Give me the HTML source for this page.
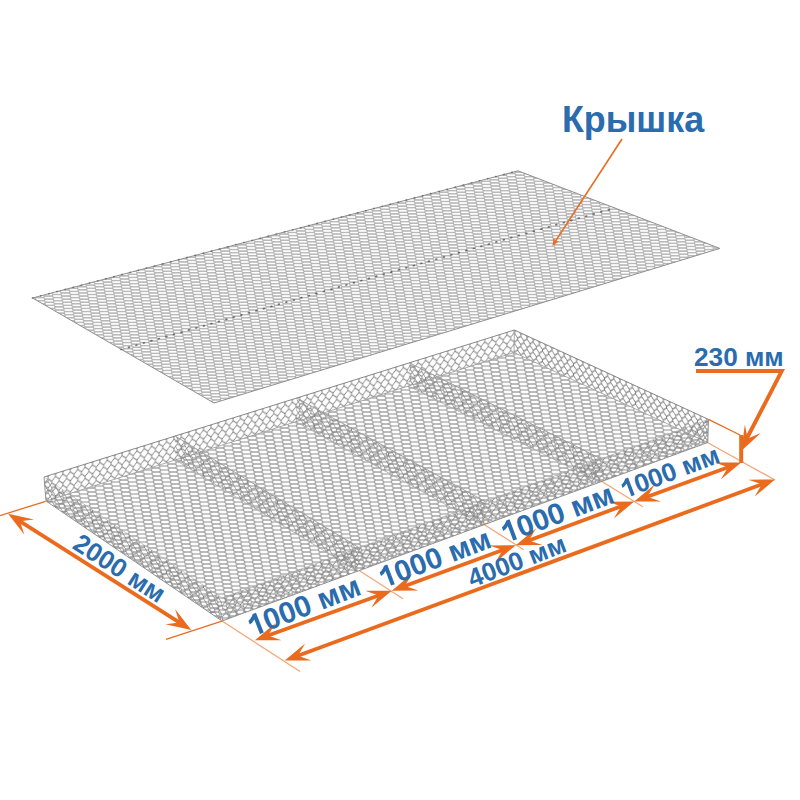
<!DOCTYPE html>
<html><head><meta charset="utf-8"><style>
html,body{margin:0;padding:0;background:#fff;width:800px;height:800px;overflow:hidden}
svg{display:block;font-family:"Liberation Sans",sans-serif}
</style></head><body>
<svg width="800" height="800" viewBox="0 0 800 800">
<defs><marker id="ah" viewBox="0 0 10 10" refX="10" refY="5" markerWidth="6" markerHeight="6" orient="auto"><path d="M0 0L10 5L0 10L3 5Z" fill="#EA6B1E"/></marker>
<pattern id="meshL" width="17.6" height="3.1" patternUnits="userSpaceOnUse" patternTransform="skewX(10)"><path d="M1.2 0H8.8L10 1.55L8.8 3.1H1.2L0 1.55ZM10 1.55H17.6" stroke="#a4a4a4" stroke-width="1.0" fill="none"/></pattern>
<pattern id="meshF" width="17.0" height="4.0" patternUnits="userSpaceOnUse" patternTransform="skewX(10)"><path d="M1.5 0H8.5L10 2.0L8.5 4.0H1.5L0 2.0ZM10 2.0H17.0" stroke="#989898" stroke-width="1.2" fill="none"/></pattern>
<pattern id="w1" width="7.40" height="11.20" patternUnits="userSpaceOnUse" patternTransform="skewY(-17.4)"><path d="M0.00,-4.60L3.70,-1.00L3.70,1.00L0.00,4.60L-3.70,1.00L-3.70,-1.00ZM7.40,-4.60L11.10,-1.00L11.10,1.00L7.40,4.60L3.70,1.00L3.70,-1.00ZM0.00,6.60L3.70,10.20L3.70,12.20L0.00,15.80L-3.70,12.20L-3.70,10.20ZM7.40,6.60L11.10,10.20L11.10,12.20L7.40,15.80L3.70,12.20L3.70,10.20ZM3.70,1.00L7.40,4.60L7.40,6.60L3.70,10.20L0.00,6.60L0.00,4.60Z" stroke="#858585" stroke-width="0.95" fill="none" stroke-linejoin="round"/></pattern>
<pattern id="w2" width="6.20" height="10.20" patternUnits="userSpaceOnUse" patternTransform="skewY(24.6)"><path d="M0.00,-4.20L3.10,-0.90L3.10,0.90L0.00,4.20L-3.10,0.90L-3.10,-0.90ZM6.20,-4.20L9.30,-0.90L9.30,0.90L6.20,4.20L3.10,0.90L3.10,-0.90ZM0.00,6.00L3.10,9.30L3.10,11.10L0.00,14.40L-3.10,11.10L-3.10,9.30ZM6.20,6.00L9.30,9.30L9.30,11.10L6.20,14.40L3.10,11.10L3.10,9.30ZM3.10,0.90L6.20,4.20L6.20,6.00L3.10,9.30L0.00,6.00L0.00,4.20Z" stroke="#858585" stroke-width="0.95" fill="none" stroke-linejoin="round"/></pattern>
<pattern id="w3" width="7.40" height="11.20" patternUnits="userSpaceOnUse" patternTransform="skewY(34.2)"><path d="M0.00,-4.60L3.70,-1.00L3.70,1.00L0.00,4.60L-3.70,1.00L-3.70,-1.00ZM7.40,-4.60L11.10,-1.00L11.10,1.00L7.40,4.60L3.70,1.00L3.70,-1.00ZM0.00,6.60L3.70,10.20L3.70,12.20L0.00,15.80L-3.70,12.20L-3.70,10.20ZM7.40,6.60L11.10,10.20L11.10,12.20L7.40,15.80L3.70,12.20L3.70,10.20ZM3.70,1.00L7.40,4.60L7.40,6.60L3.70,10.20L0.00,6.60L0.00,4.60Z" stroke="#858585" stroke-width="0.95" fill="none" stroke-linejoin="round"/></pattern>
<pattern id="w4" width="7.40" height="11.20" patternUnits="userSpaceOnUse" patternTransform="skewY(-20.2)"><path d="M0.00,-4.60L3.70,-1.00L3.70,1.00L0.00,4.60L-3.70,1.00L-3.70,-1.00ZM7.40,-4.60L11.10,-1.00L11.10,1.00L7.40,4.60L3.70,1.00L3.70,-1.00ZM0.00,6.60L3.70,10.20L3.70,12.20L0.00,15.80L-3.70,12.20L-3.70,10.20ZM7.40,6.60L11.10,10.20L11.10,12.20L7.40,15.80L3.70,12.20L3.70,10.20ZM3.70,1.00L7.40,4.60L7.40,6.60L3.70,10.20L0.00,6.60L0.00,4.60Z" stroke="#858585" stroke-width="0.95" fill="none" stroke-linejoin="round"/></pattern></defs>
<polygon points="32.5,298.0 518.0,170.8 719.8,248.4 214.0,403.0" fill="url(#meshL)"/>
<polygon points="32.5,298.0 518.0,170.8 719.8,248.4 214.0,403.0" fill="none" stroke="#8f8f8f" stroke-width="1"/>
<line x1="32.5" y1="298.0" x2="518.0" y2="170.8" stroke="#666" stroke-width="1.7" stroke-dasharray="0.4 8" stroke-linecap="round" opacity="0.75"/>
<line x1="121" y1="349.5" x2="613" y2="208.5" stroke="#555" stroke-width="1.7" stroke-dasharray="0.9 6.9" stroke-linecap="round" opacity="0.8"/>
<polygon points="46.0,501.0 514.0,352.5 514.4,330.0 44.0,477.0" fill="url(#w1)"/>
<polygon points="514.0,352.5 707.8,442.5 708.5,419.4 514.4,330.0" fill="url(#w2)"/>
<polyline points="44.0,477.0 514.4,330.0 708.5,419.4" fill="none" stroke="#8a8a8a" stroke-width="1"/>
<polyline points="46.0,501.0 514.0,352.5 707.8,442.5" fill="none" stroke="#9a9a9a" stroke-width="0.8"/>
<line x1="514.4" y1="330.0" x2="514.0" y2="352.5" stroke="#999" stroke-width="0.8"/>
<polygon points="46.0,501.0 514.0,352.5 707.8,442.5 222.0,621.0" fill="url(#meshF)"/>
<polygon points="175.32,459.97 357.53,571.2 359.09,547.67 175.16,436.01" fill="url(#w3)" opacity="0.95"/>
<line x1="175.16" y1="436.01" x2="359.09" y2="547.67" stroke="#999" stroke-width="0.9"/>
<line x1="175.32" y1="459.97" x2="357.53" y2="571.2" stroke="#aaa" stroke-width="0.8"/>
<polygon points="295.87,421.71 482.97,525.11 485.03,501.44 296.61,398.06" fill="url(#w3)" opacity="0.95"/>
<line x1="296.61" y1="398.06" x2="485.03" y2="501.44" stroke="#999" stroke-width="0.9"/>
<line x1="295.87" y1="421.71" x2="482.97" y2="525.11" stroke="#aaa" stroke-width="0.8"/>
<polygon points="408.51,385.97 599.42,482.32 601.13,458.82 409.39,362.81" fill="url(#w3)" opacity="0.95"/>
<line x1="409.39" y1="362.81" x2="601.13" y2="458.82" stroke="#999" stroke-width="0.9"/>
<line x1="408.51" y1="385.97" x2="599.42" y2="482.32" stroke="#aaa" stroke-width="0.8"/>
<polygon points="46.0,501.0 222.0,621.0 222.0,598.0 44.0,477.0" fill="url(#w3)"/>
<polygon points="222.0,621.0 707.8,442.5 708.5,419.4 222.0,598.0" fill="url(#w4)"/>
<polyline points="44.0,477.0 222.0,598.0 708.5,419.4" fill="none" stroke="#aaa" stroke-width="0.6"/>
<polyline points="46.0,501.0 222.0,621.0 707.8,442.5" fill="none" stroke="#8a8a8a" stroke-width="0.9"/>
<polyline points="44.0,477.0 46.0,501.0" fill="none" stroke="#8a8a8a" stroke-width="0.9"/>
<polyline points="708.5,419.4 707.8,442.5" fill="none" stroke="#8a8a8a" stroke-width="0.9"/>
<line x1="45.60" y1="501.30" x2="0.00" y2="515.60" stroke="#EA6B1E" stroke-width="1.3" stroke-opacity="1"/>
<line x1="221.90" y1="621.20" x2="166.00" y2="639.30" stroke="#EA6B1E" stroke-width="1.3" stroke-opacity="1"/>
<line x1="17.39" y1="519.69" x2="182.01" y2="624.11" stroke="#EA6B1E" stroke-width="3.8"/><polygon points="191.30,630.00 165.37,624.21 179.48,622.50 175.01,609.01" fill="#EA6B1E"/><polygon points="8.10,513.80 34.03,519.59 19.92,521.30 24.39,534.79" fill="#EA6B1E"/>
<line x1="222.00" y1="621.00" x2="300.00" y2="671.50" stroke="#EA6B1E" stroke-width="1.3" stroke-opacity="0.6"/>
<line x1="359.50" y1="570.80" x2="403.00" y2="598.70" stroke="#EA6B1E" stroke-width="1.3" stroke-opacity="0.6"/>
<line x1="482.50" y1="523.50" x2="523.80" y2="549.80" stroke="#EA6B1E" stroke-width="1.3" stroke-opacity="0.6"/>
<line x1="601.50" y1="481.30" x2="642.80" y2="506.80" stroke="#EA6B1E" stroke-width="1.3" stroke-opacity="0.6"/>
<line x1="708.50" y1="419.40" x2="740.00" y2="435.00" stroke="#EA6B1E" stroke-width="1.3" stroke-opacity="1"/>
<line x1="707.50" y1="442.50" x2="775.00" y2="480.00" stroke="#EA6B1E" stroke-width="1.3" stroke-opacity="0.6"/>
<line x1="265.24" y1="636.56" x2="381.41" y2="594.49" stroke="#EA6B1E" stroke-width="3.8"/><polygon points="391.75,590.75 371.31,607.72 378.59,595.52 365.18,590.80" fill="#EA6B1E"/><polygon points="254.90,640.30 275.34,623.33 268.06,635.53 281.47,640.25" fill="#EA6B1E"/>
<line x1="402.08" y1="586.96" x2="505.47" y2="549.04" stroke="#EA6B1E" stroke-width="3.8"/><polygon points="515.80,545.25 495.43,562.31 502.66,550.07 489.23,545.41" fill="#EA6B1E"/><polygon points="391.75,590.75 412.12,573.69 404.89,585.93 418.32,590.59" fill="#EA6B1E"/>
<line x1="526.12" y1="541.44" x2="623.88" y2="505.31" stroke="#EA6B1E" stroke-width="3.8"/><polygon points="634.20,501.50 613.87,518.61 621.07,506.35 607.63,501.72" fill="#EA6B1E"/><polygon points="515.80,545.25 536.13,528.14 528.93,540.40 542.37,545.03" fill="#EA6B1E"/>
<line x1="644.53" y1="497.73" x2="730.87" y2="466.27" stroke="#EA6B1E" stroke-width="3.8"/><polygon points="741.20,462.50 720.79,479.52 728.05,467.29 714.63,462.61" fill="#EA6B1E"/><polygon points="634.20,501.50 654.61,484.48 647.35,496.71 660.77,501.39" fill="#EA6B1E"/>
<line x1="295.12" y1="656.79" x2="764.68" y2="483.31" stroke="#EA6B1E" stroke-width="3.8"/><polygon points="775.00,479.50 754.67,496.61 761.87,484.35 748.43,479.72" fill="#EA6B1E"/><polygon points="284.80,660.60 305.13,643.49 297.93,655.75 311.37,660.38" fill="#EA6B1E"/>
<rect x="739.2" y="435" width="4" height="28" fill="#EA6B1E"/>
<polyline points="696,371 781.8,371 746,440" fill="none" stroke="#EA6B1E" stroke-width="3.9" stroke-linejoin="miter"/>
<polygon points="741.20,450.90 744.88,424.58 747.72,438.51 760.82,432.97" fill="#EA6B1E"/>
<line x1="622" y1="139" x2="553.2" y2="244.6" stroke="#EA6B1E" stroke-width="1.6"/>
<polygon points="552.5,246 553.6,237.6 555.6,240.6 558.9,241.4" fill="#EA6B1E" opacity="0.85"/>
<text transform="translate(561.9 132) scale(1 1.045)" font-size="35.9" font-weight="bold" fill="#2A6CAD">Крышка</text>
<text transform="translate(694 365.5)" font-size="26.2" font-weight="bold" fill="#2A6CAD">230 мм</text>
<g transform="translate(71.18 547.82) rotate(32.7) scale(1 1.0)" fill="#2A6CAD"><text font-size="26.0" font-weight="bold">2000 мм</text></g>
<g transform="translate(252.31 637.04) rotate(-21.3) scale(1 1.0)" fill="#2A6CAD"><path transform="scale(29.8)" d="M0.412,0L0.277,0L0.277,-0.528C0.215,-0.47 0.15,-0.44 0.075,-0.42L0.075,-0.55C0.125,-0.566 0.175,-0.595 0.225,-0.64C0.265,-0.677 0.29,-0.716 0.295,-0.716L0.412,-0.716Z"/><text x="16.574" font-size="29.8" font-weight="bold">000 мм</text></g>
<g transform="translate(383.39 588.47) rotate(-20.8) scale(1 1.0)" fill="#2A6CAD"><path transform="scale(29.5)" d="M0.412,0L0.277,0L0.277,-0.528C0.215,-0.47 0.15,-0.44 0.075,-0.42L0.075,-0.55C0.125,-0.566 0.175,-0.595 0.225,-0.64C0.265,-0.677 0.29,-0.716 0.295,-0.716L0.412,-0.716Z"/><text x="16.407" font-size="29.5" font-weight="bold">000 мм</text></g>
<g transform="translate(505.57 543.44) rotate(-20.5) scale(1 1.0)" fill="#2A6CAD"><path transform="scale(29.6)" d="M0.412,0L0.277,0L0.277,-0.528C0.215,-0.47 0.15,-0.44 0.075,-0.42L0.075,-0.55C0.125,-0.566 0.175,-0.595 0.225,-0.64C0.265,-0.677 0.29,-0.716 0.295,-0.716L0.412,-0.716Z"/><text x="16.462" font-size="29.6" font-weight="bold">000 мм</text></g>
<g transform="translate(624.70 498.78) rotate(-20.9) scale(1 1.0)" fill="#2A6CAD"><path transform="scale(26.0)" d="M0.412,0L0.277,0L0.277,-0.528C0.215,-0.47 0.15,-0.44 0.075,-0.42L0.075,-0.55C0.125,-0.566 0.175,-0.595 0.225,-0.64C0.265,-0.677 0.29,-0.716 0.295,-0.716L0.412,-0.716Z"/><text x="14.460" font-size="26.0" font-weight="bold">000 мм</text></g>
<g transform="translate(472.10 587.76) rotate(-21) scale(1 1.0)" fill="#2A6CAD"><text font-size="25.8" font-weight="bold">4000 мм</text></g>
</svg></body></html>
